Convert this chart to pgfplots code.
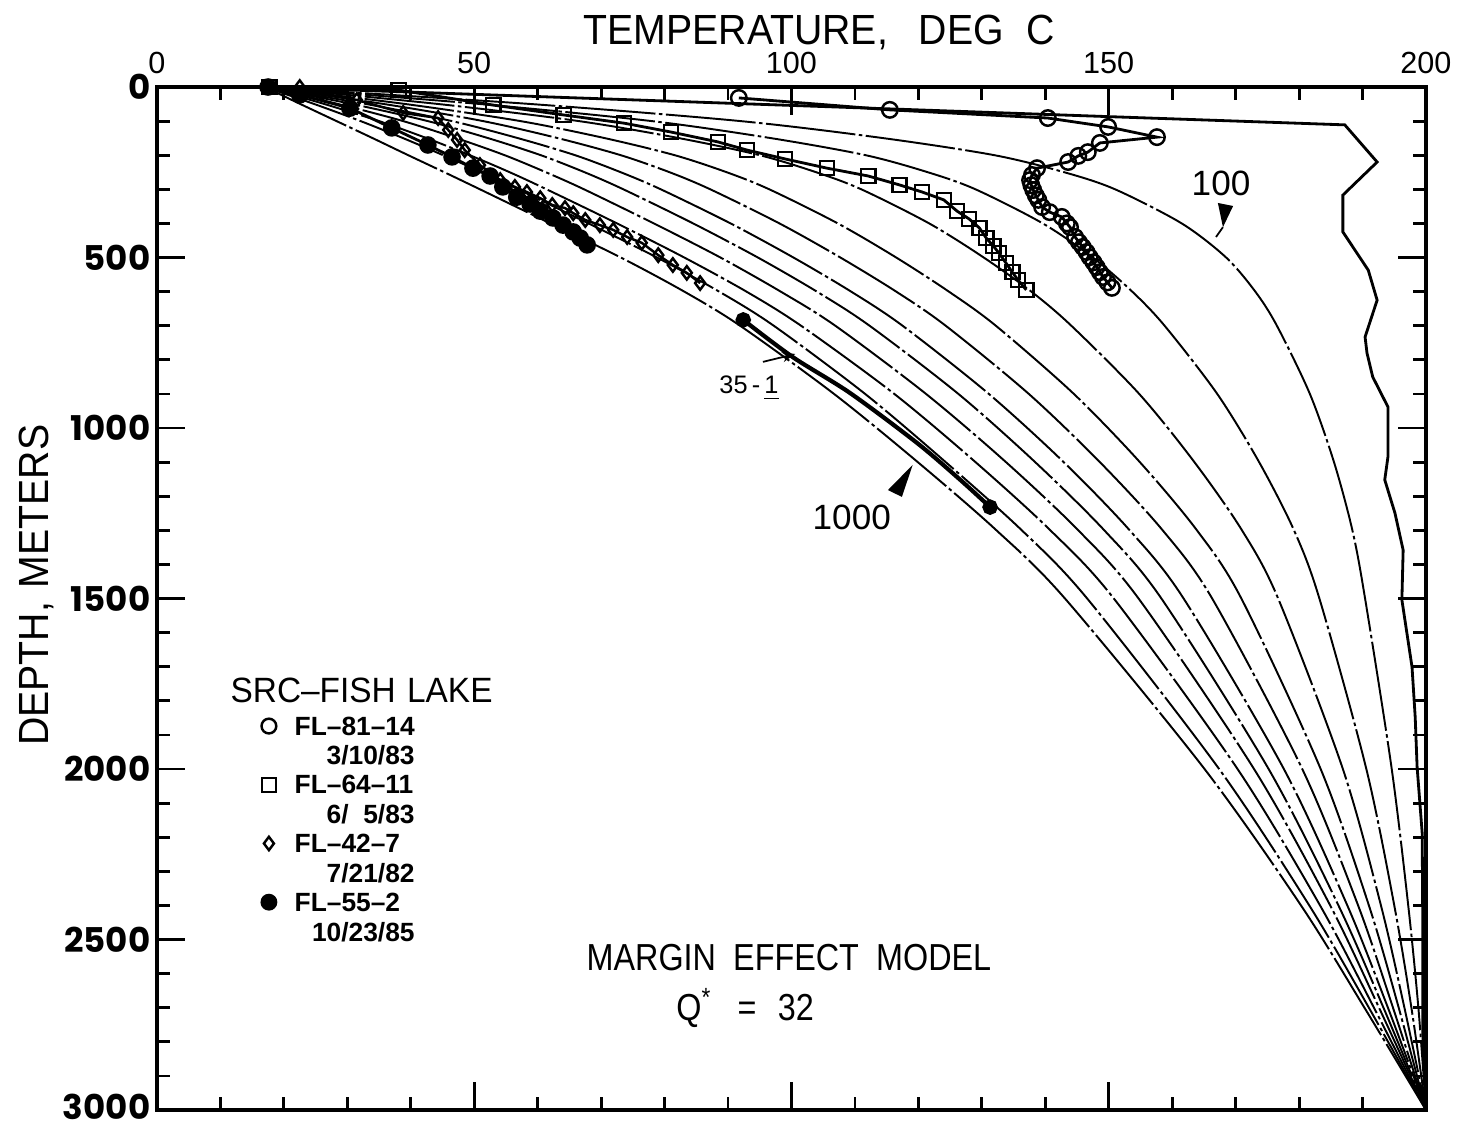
\documentclass[border=0pt]{standalone}
\usepackage{fontspec}
\setmainfont{Liberation Sans}
\newfontfamily\yfont{Poppins}
\usepackage{graphicx}
\usepackage{pgfplots}
\usepackage{pgfplotstable}
\pgfplotsset{compat=1.18}
\usetikzlibrary{arrows.meta}

\pgfplotstableread{
D c0 c1 c2 c3 c4 c5 c6 c7 c8 c9 c10
0 17 17 17 17 17 17 17 17 17 17 17
50 22.6 24.8 26.4 28.6 30.8 33.0 35.8 39.2 44.4 51.0 59.0
100 28.3 32.1 35.0 38.8 42.7 46.5 51.4 57.3 66.5 78.0 92.0
150 34.0 38.8 42.5 47.2 52.2 56.9 63.2 70.6 82.3 96.8 114.5
200 39.6 45.1 49.3 54.8 60.5 65.9 73.1 81.6 95.0 111.7 132.0
250 45.3 51.2 55.6 61.3 67.4 73.1 80.8 89.8 103.9 121.5 143.0
300 50.9 56.9 61.4 67.3 73.5 79.4 87.2 96.5 111.0 129.0 151.0
400 62.0 68.0 72.5 78.3 84.5 90.4 98.1 107.3 121.7 139.6 161.5
500 73.1 78.8 83.1 88.8 94.7 100.3 107.7 116.5 130.3 147.5 168.5
600 83.1 88.6 92.9 98.3 104.0 109.4 116.5 124.8 137.8 153.7 173.1
700 91.9 97.2 101.5 106.9 112.3 117.5 124.3 132.2 144.1 158.8 176.5
900 106.7 111.6 116.2 121.2 126.3 131.1 137.4 144.5 154.8 167.1 181.7
1100 119.9 124.3 129.0 133.8 138.4 142.9 148.6 154.9 163.5 173.7 185.5
1300 132.3 136.3 140.8 145.2 149.3 153.3 158.5 163.9 171.0 179.2 188.4
1500 143.1 146.6 150.8 154.7 158.3 161.8 166.3 170.9 176.7 183.2 190.4
2000 165.1 167.4 170.3 172.9 175.2 177.6 180.5 183.4 186.9 190.6 194.6
2400 180.3 181.6 183.3 184.9 186.2 187.6 189.3 191.0 192.9 195.0 197.2
2700 190.3 191.0 191.8 192.6 193.3 194.0 194.8 195.7 196.6 197.7 198.8
3000 200 200 200 200 200 200 200 200 200 200 200
}\modeltable

\pgfplotstableread{
T D
17.0 0
100.0 54
150.2 87
187.2 111
192.3 220
186.9 317
186.9 425
190.9 537
192.3 625
190.4 733
190.7 780
191.6 850
194.0 938
194.0 1085
193.5 1152
195.1 1249
196.4 1358
196.2 1504
197.8 1701
198.3 1848
198.6 1994
199.4 2188
199.5 2481
199.5 2774
200.0 3000
}\initialtable

\pgfplotstableread{
T D
91.7 32
115.5 67
140.4 91
149.9 117
157.6 147
148.6 164
146.7 191
145.2 202
143.6 220
138.7 238
137.9 258
137.6 273
137.8 288
138.1 302
138.5 318
138.9 331
139.5 352
140.7 367
142.6 381
143.4 400
143.9 411
144.7 440
145.3 455
145.9 469
146.5 484
147.0 499
147.6 514
148.1 528
148.6 543
149.1 557
149.8 573
150.5 589
}\flA

\pgfplotstableread{
T D
17.7 0
38.1 9
53.0 53
64.1 82
73.6 106
81.0 132
88.4 161
93.0 185
99.0 211
105.6 238
112.1 261
117.0 287
120.6 308
124.0 331
126.1 364
128.0 387
129.6 413
130.7 443
131.8 466
132.7 487
133.8 516
134.8 543
135.7 566
137.0 595
}\flB

\pgfplotstableread{
T D
22.5 0
26.0 20
31.5 38
38.8 76
44.3 91
45.9 126
47.3 155
48.5 185
50.9 229
54.1 273
56.4 293
58.3 308
60.4 326
62.3 346
64.3 355
65.6 370
67.5 390
69.8 405
71.9 419
74.1 440
76.4 457
79.0 493
81.3 522
83.5 545
85.6 575
}\flC

\pgfplotstableread{
T D
17.5 0
22.5 23
30.4 62
37.0 120
42.7 170
46.5 205
49.8 238
52.5 261
54.5 293
56.7 323
58.8 343
60.4 364
62.4 384
64.0 405
65.6 425
66.7 443
67.8 463
}\flD

\pgfplotstableread{
T D
92.4 683
100.2 792
109.2 897
119.8 1044
126.6 1152
131.3 1232
}\wellE

\begin{document}
\begin{tikzpicture}
\path[use as bounding box] (-15.7mm,-1.9mm) rectangle (130.9mm,111.0mm);
\begin{axis}[
  at={(0,0)}, anchor=south west,
  scale only axis, width=126.9mm, height=102.3mm,
  xmin=0, xmax=200, ymin=0, ymax=3000,
  y dir=reverse,
  clip=false,
  xtick={0,50,100,150,200}, ytick={0,500,1000,1500,2000,2500,3000},
  yticklabels={0,500,1000,1500,2000,2500,\raisebox{0.7mm}{3000}},
  minor x tick num=4, minor y tick num=4,
  xticklabel pos=upper,
  tick align=inside,
  major tick length=2.8mm, minor tick length=1.3mm,
  axis line style={line width=0.9pt},
  every tick/.style={black, line width=0.8pt},
  /pgf/number format/assume math mode=true,
  /pgf/number format/1000 sep={},
  scaled ticks=false,
  xticklabel style={font=\fontsize{8.7}{9}\selectfont, inner sep=0pt, yshift=1.3mm},
  yticklabel style={font=\yfont\bfseries\fontsize{9.7}{10}\selectfont, inner sep=0pt, xshift=-0.6mm},
  title={\scalebox{0.93}[1]{TEMPERATURE,\hspace{3.3mm}DEG\hspace{2.4mm}C}},
  every axis title/.style={at={(axis description cs:0.5217,1)}, anchor=base, yshift=4.3mm, inner sep=0pt, text depth=0pt, font=\fontsize{12}{13}\selectfont},
  ylabel={\scalebox{0.93}[1]{DEPTH,\hspace{1.5mm}METERS}},
  ylabel style={at={(axis description cs:-0.0953,0.513)}, anchor=center, font=\fontsize{12}{13}\selectfont},
  legend cell align=left,
  legend style={at={(axis cs:12.8,1845)}, anchor=north west, draw=none, fill=none,
    inner sep=0pt, row sep=1.06mm, column sep=1.8mm,
    font=\fontsize{7.5}{8}\selectfont\bfseries,
    nodes={inner sep=0pt, text depth=0pt}},
  model/.style={black, line width=0.55pt, smooth, tension=0.5,
    dash pattern=on 9mm off 0.35mm on 0.35mm off 0.35mm, forget plot},
]
\pgfplotsinvokeforeach{0,...,10}{
  \addplot[model] table[x=c#1, y=D] {\modeltable};
}
\addplot[black, line width=0.8pt, forget plot] table[x=T, y=D] {\initialtable};

\addplot[black, line width=0.8pt, mark=o, mark size=2.2pt, mark options={line width=0.7pt, solid}, forget plot] table[x=T, y=D] {\flA};
\addplot[black, line width=0.8pt, mark=square, mark size=2pt, mark options={line width=0.7pt, solid}, forget plot] table[x=T, y=D] {\flB};
\addplot[black, line width=0.7pt, mark=diamond, mark size=1.9pt, mark options={line width=0.7pt, solid}, forget plot] table[x=T, y=D] {\flC};
\addplot[black, line width=0.8pt, mark=*, mark size=2.1pt, forget plot] table[x=T, y=D] {\flD};
\addplot[black, line width=1.2pt, smooth, mark=*, mark size=1.6pt, mark indices={1,6}, forget plot] table[x=T, y=D] {\wellE};

\addlegendimage{only marks, mark=o, mark size=2.1pt, line width=0.7pt}
\addlegendentry{FL--81--14}
\addlegendimage{empty legend}
\addlegendentry{\makebox[12mm][r]{3/10/83}}
\addlegendimage{only marks, mark=square, mark size=2pt, line width=0.7pt}
\addlegendentry{FL--64--11}
\addlegendimage{empty legend}
\addlegendentry{\makebox[12mm][r]{6/\phantom{0}5/83}}
\addlegendimage{only marks, mark=diamond, mark size=1.9pt, line width=0.7pt}
\addlegendentry{FL--42--7}
\addlegendimage{empty legend}
\addlegendentry{\makebox[12mm][r]{7/21/82}}
\addlegendimage{only marks, mark=*, mark size=2.2pt}
\addlegendentry{FL--55--2}
\addlegendimage{empty legend}
\addlegendentry{\makebox[12mm][r]{10/23/85}}

\node[anchor=base west, inner sep=0pt, font=\fontsize{10}{11}\selectfont] at (axis cs:11.5,1806) {\scalebox{0.95}[1]{SRC--FISH\hspace{1.2mm}LAKE}};

\node[font=\fontsize{10}{11}\selectfont] at (axis cs:167.7,284) {100};
\fill[black] (axis cs:167.2,340) -- (axis cs:169.6,349) -- (axis cs:168.0,411) -- cycle;
\draw[black, line width=0.5pt] (axis cs:168.0,411) -- (axis cs:166.9,440);

\node[font=\fontsize{10}{11}\selectfont] at (axis cs:109.5,1261) {1000};
\fill[black] (axis cs:115.2,1182) -- (axis cs:117.4,1202) -- (axis cs:119.1,1108) -- cycle;

\node[font=\fontsize{7.2}{8}\selectfont] at (axis cs:93.3,883) {35\,-\,\underline{1}};
\draw[-{Stealth[length=1.3mm,width=1mm]}, line width=0.5pt] (axis cs:95.5,806) -- (axis cs:100.6,783);

\node[font=\fontsize{10.7}{12}\selectfont] at (axis cs:99.6,2554) {\scalebox{0.86}[1]{MARGIN\hspace{2mm}EFFECT\hspace{2mm}MODEL}};
\node[font=\fontsize{10.7}{12}\selectfont] at (axis cs:92.7,2701) {\scalebox{0.86}[1]{Q\textsuperscript{*}\hspace{3mm}=\hspace{2.5mm}32}};
\end{axis}
\end{tikzpicture}
\end{document}
